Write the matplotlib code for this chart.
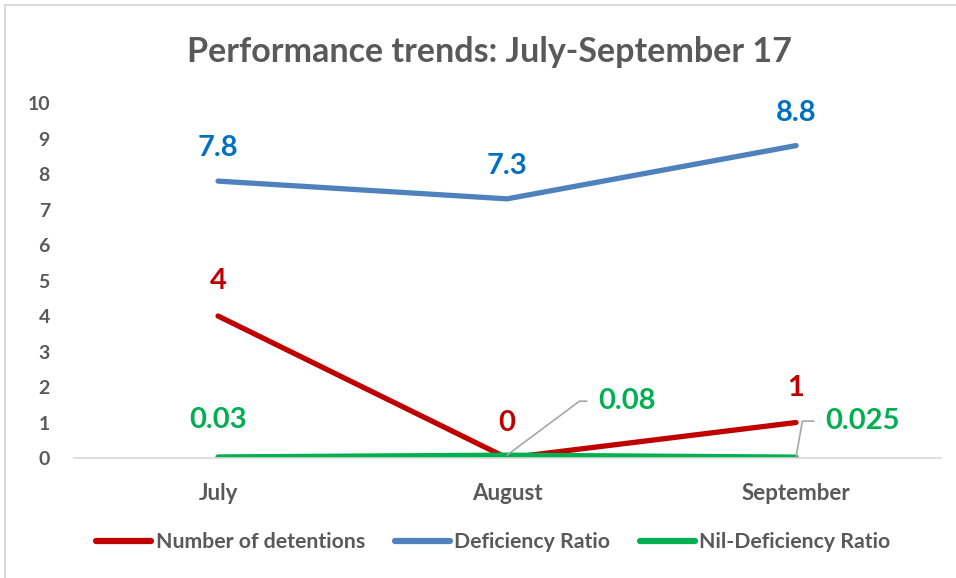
import matplotlib
matplotlib.use("Agg")
import matplotlib.pyplot as plt
from matplotlib.lines import Line2D

months = ["July", "August", "September"]
detentions = [4, 0, 1]
deficiency_ratio = [7.8, 7.3, 8.8]
nil_deficiency_ratio = [0.03, 0.08, 0.025]
det_labels = ["4", "0", "1"]
def_labels = ["7.8", "7.3", "8.8"]
nil_labels = ["0.03", "0.08", "0.025"]

red = "#C00000"
blue = "#4F81BD"
green = "#00B050"
blue_txt = "#0070C0"
gray = "#595959"

plt.rcParams['font.family'] = ['Lato', 'DejaVu Sans']

fig = plt.figure(figsize=(9.56, 5.78), dpi=100)
ax = fig.add_axes([0.0769, 0.2076, 0.9069, 0.6142])

x = list(range(len(months)))
ax.plot(x, detentions, color=red, lw=3.8, solid_capstyle='round', label="Number of detentions")
ax.plot(x, deficiency_ratio, color=blue, lw=3.8, solid_capstyle='round', label="Deficiency Ratio")
ax.plot(x, nil_deficiency_ratio, color=green, lw=3.8, solid_capstyle='round', label="Nil-Deficiency Ratio")

lab_kw = dict(textcoords='offset pixels', ha='center', va='baseline', fontsize=21, fontweight='bold')
for i in range(3):
    ax.annotate(det_labels[i], (x[i], detentions[i]), xytext=(0, 27), color=red, **lab_kw)
    ax.annotate(def_labels[i], (x[i], deficiency_ratio[i]), xytext=(0, 25), color=blue_txt, **lab_kw)

# July green label above the point, others moved with leader lines
ax.annotate(nil_labels[0], (x[0], nil_deficiency_ratio[0]), xytext=(0, 29), color=green, **lab_kw)
leader = [(1, 91, 54, 36.7), (2, 29, 36, 80)]
for i, dx, dy, angB in leader:
    ax.annotate(nil_labels[i], (x[i], nil_deficiency_ratio[i]), xytext=(dx, dy),
                textcoords='offset pixels', ha='left', va='center', fontsize=21,
                fontweight='bold', color=green,
                arrowprops=dict(arrowstyle='-', color='#A6A6A6', lw=1.2,
                                relpos=(0, 0.5), shrinkA=6, shrinkB=0,
                                connectionstyle=f'angle,angleA=0,angleB={angB},rad=0'))

ax.set_xlim(-0.5, 2.5)
ax.set_ylim(0, 10)
ax.set_yticks(range(0, 11))
ax.set_xticks(x)
ax.set_xticklabels(months)
for s in ['top', 'right', 'left']:
    ax.spines[s].set_visible(False)
ax.spines['bottom'].set_color('#D9D9D9')
ax.spines['bottom'].set_linewidth(1.2)
ax.tick_params(length=0, labelcolor=gray)
ax.tick_params(axis='x', pad=18, labelsize=16)
ax.tick_params(axis='y', pad=17, labelsize=14)
for t in ax.get_xticklabels() + ax.get_yticklabels():
    t.set_fontweight('bold')
ax.patch.set_alpha(0)

fig.text(0.5115, 0.893, "Performance trends: July-September 17", ha='center', va='baseline',
         fontsize=24.5, fontweight='bold', color=gray)

leg = fig.legend(loc='center', bbox_to_anchor=(0.516, 0.062), ncol=3, frameon=False,
                 handlelength=2.6, handletextpad=0.2, columnspacing=1.4,
                 prop=dict(size=15.3, weight='bold'))
for t in leg.get_texts():
    t.set_color(gray)
for h in leg.get_lines():
    h.set_linewidth(4.5)

# chart frame (top and left edges visible)
fig.add_artist(Line2D([5 / 956, 5 / 956], [0, 1 - 5 / 578], color='#D9D9D9', lw=1.5))
fig.add_artist(Line2D([5 / 956, 1], [1 - 5 / 578, 1 - 5 / 578], color='#D9D9D9', lw=1.5))

fig.savefig("out.png", dpi=100)
